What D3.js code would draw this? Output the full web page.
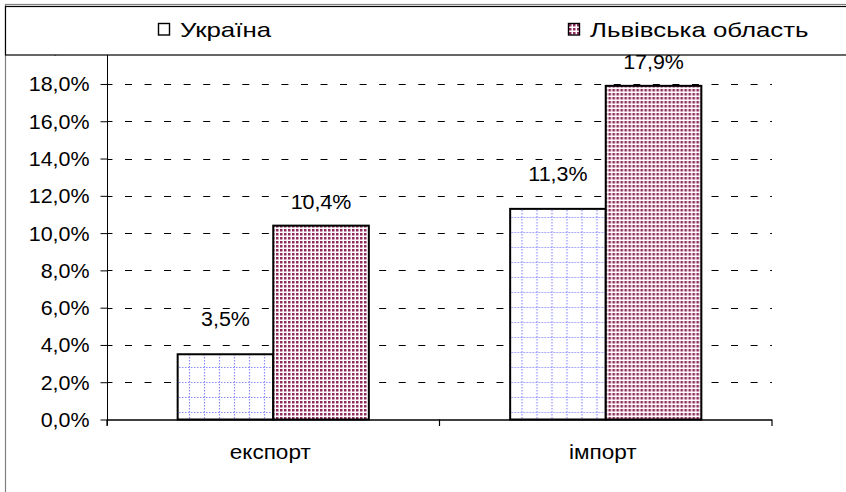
<!DOCTYPE html>
<html><head><meta charset="utf-8">
<script src="https://cdn.jsdelivr.net/npm/d3@7"></script>
<style>
html,body{margin:0;padding:0;background:#fff;}
svg text{font-family:"Liberation Sans",Arial,sans-serif;fill:#000;}
</style></head>
<body><svg id="c" width="846" height="492"></svg>
<script>
const categories = ["експорт", "імпорт"];
const seriesNames = ["Україна", "Львівська область"];
const ukraineValues = [0.035, 0.113];
const lvivValues = [0.104, 0.179];
const yTicks = [0, 0.02, 0.04, 0.06, 0.08, 0.10, 0.12, 0.14, 0.16, 0.18, 0.20];

const svg = d3.select("#c");
const defs = svg.append("defs");
const pu = defs.append("pattern").attr("id","pUkr").attr("patternUnits","userSpaceOnUse")
  .attr("width",15).attr("height",15);
pu.append("rect").attr("width",15).attr("height",15).attr("fill","#fff");
pu.append("line").attr("x1",0).attr("x2",15).attr("y1",7.5).attr("y2",7.5)
  .attr("stroke","#8c8cff").attr("stroke-width",1.2).attr("stroke-dasharray","1.5,1.5");
pu.append("line").attr("y1",0).attr("y2",15).attr("x1",7.5).attr("x2",7.5)
  .attr("stroke","#8c8cff").attr("stroke-width",1.2).attr("stroke-dasharray","1.5,1.5");
const pl = defs.append("pattern").attr("id","pLviv").attr("patternUnits","userSpaceOnUse")
  .attr("width",4).attr("height",4);
pl.append("rect").attr("width",4).attr("height",4).attr("fill","#fff");
pl.append("rect").attr("x",1).attr("y",1).attr("width",2.5).attr("height",2.5).attr("fill","#8e2a5c");

const fills = ["url(#pUkr)", "url(#pLviv)"];
const legendFills = ["#fff", "url(#pLviv)"];
const labelOffsets = [28, 17];

const x0 = 107, x1 = 772, yBottom = 419.5;
const x = d3.scaleBand().domain(categories).range([x0, x1]).paddingInner(0).paddingOuter(0);
const bw = x.bandwidth();
const gw = bw * 0.575;
const xs = d3.scaleBand().domain(seriesNames).range([(bw - gw) / 2, (bw + gw) / 2]);
const y = d3.scaleLinear().domain([0, 0.20]).range([yBottom, 46.7]);
const fmt = v => d3.format(".1f")(v * 100).replace(".", ",") + "%";

function stext(sel, tx, ty, sx) {
  return sel.attr("transform", (d, i) => `translate(${tx(d, i)},${ty(d, i)}) scale(${sx},1)`)
    .attr("x", 0).attr("y", 0);
}

// outer frame
svg.append("rect").attr("x",5.5).attr("y",4.5).attr("width",900).attr("height",600)
  .attr("fill","#fff").attr("stroke","#808080").attr("stroke-width",1.2);

// gridlines
svg.append("g").selectAll("line").data(yTicks.filter(d => d > 0)).join("line")
  .attr("x1", x0).attr("x2", x1)
  .attr("y1", d => Math.round(y(d)) + 0.5).attr("y2", d => Math.round(y(d)) + 0.5)
  .attr("stroke", "#000").attr("stroke-width", 1)
  .attr("stroke-dasharray", "7,12.55").attr("stroke-dashoffset", 1.55);

// y axis
const yAxis = d3.axisLeft(y).tickValues(yTicks).tickFormat(fmt).tickSize(7).tickPadding(11);
const gy = svg.append("g").attr("transform", `translate(${x0 + 0.5},0)`).call(yAxis);
gy.select(".domain").attr("d", `M0,55V${yBottom + 6}`).attr("stroke","#000");
gy.selectAll(".tick line").attr("stroke","#000");
gy.selectAll(".tick text").each(function(d) {
  d3.select(this).attr("font-size", 19.5).attr("text-anchor","end")
   .attr("x",0).attr("y",0).attr("dy",null)
   .attr("transform", `translate(-18,${d >= 0.2 ? 5.5 : 7}) scale(1.1,1)`);
});

// bars
const data = categories.map((c, i) => ({cat: c, vals: [ukraineValues[i], lvivValues[i]]}));
const groups = svg.append("g").selectAll("g").data(data).join("g")
  .attr("transform", d => `translate(${x(d.cat)},0)`);
groups.selectAll("rect").data(d => d.vals.map((v, j) => ({v, s: seriesNames[j], j})))
  .join("rect")
  .attr("x", d => xs(d.s)).attr("width", xs.bandwidth())
  .attr("y", d => y(d.v)).attr("height", d => yBottom - y(d.v))
  .attr("fill", d => fills[d.j]).attr("stroke", "#000").attr("stroke-width", 2);
stext(groups.selectAll("text").data(d => d.vals.map((v, j) => ({v, s: seriesNames[j], j})))
  .join("text").attr("text-anchor", "middle").attr("font-size", 19.5).text(d => fmt(d.v)),
  d => xs(d.s) + xs.bandwidth() / 2, d => y(d.v) - labelOffsets[d.j], 1.1);

// x axis
const xAxis = d3.axisBottom(x).tickSize(0).tickFormat(() => "");
const gx = svg.append("g").attr("transform", `translate(0,${yBottom})`).call(xAxis);
gx.select(".domain").attr("d", `M${x0},0.5H${x1}`).attr("stroke","#000").attr("stroke-width",1.5);
gx.selectAll(".tick").remove();
const bounds = [x0, x0 + bw, x1];
gx.selectAll("line.b").data(bounds).join("line").attr("class","b")
  .attr("x1", d => d).attr("x2", d => d).attr("y1", 0).attr("y2", 6.5)
  .attr("stroke", "#000").attr("stroke-width", 1.2);
stext(gx.selectAll("text.cl").data(categories).join("text").attr("class","cl")
  .attr("text-anchor","middle").attr("font-size", 20.5).text(d => d),
  d => x(d) + bw / 2 - 3, () => 39.5, 1.1);

// legend
const lg = svg.append("g");
lg.append("rect").attr("x",5.5).attr("y",6.5).attr("width",900).attr("height",48.5)
  .attr("fill","#fff").attr("stroke","#000").attr("stroke-width",1.2);
const legendX = [158, 568];
const le = lg.selectAll("g").data(seriesNames).join("g")
  .attr("transform", (d, i) => `translate(${legendX[i]},23)`);
le.append("rect").attr("x",0.5).attr("y",0.5).attr("width",11).attr("height",11.5)
  .attr("fill", (d, i) => legendFills[i]).attr("stroke","#000").attr("stroke-width",1.4);
le.append("text").attr("font-size", 21).attr("transform", "translate(22,14) scale(1.23,1)")
  .text(d => d);
</script></body></html>
